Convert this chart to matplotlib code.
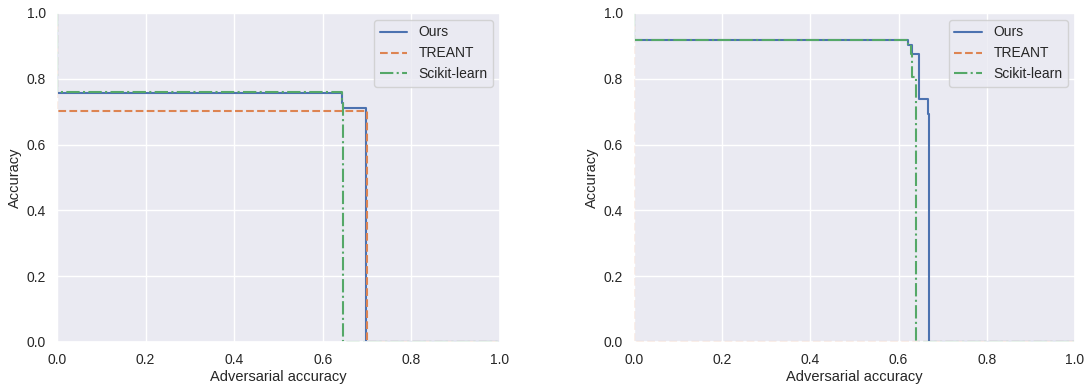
import matplotlib
matplotlib.use("Agg")
import matplotlib.pyplot as plt
import seaborn as sns

sns.set_theme(style="darkgrid")
plt.rcParams['font.family'] = ['Liberation Sans', 'DejaVu Sans']

# Left panel (step curves: adversarial accuracy thresholds -> accuracy)
left_ours_adv = [0.0, 0.0, 0.644, 0.646, 0.698, 1.0]
left_ours_acc = [1.0, 0.758, 0.725, 0.710, 0.0, 0.0]
left_treant_adv = [0.0, 0.0, 0.699, 1.0]
left_treant_acc = [1.0, 0.703, 0.0, 0.0]
left_sk_adv = [0.0, 0.0, 0.643, 0.645, 1.0]
left_sk_acc = [1.0, 0.760, 0.735, 0.0, 0.0]

# Right panel
right_ours_adv = [0.0, 0.0, 0.621, 0.630, 0.646, 0.666, 0.669, 1.0]
right_ours_acc = [1.0, 0.918, 0.903, 0.875, 0.739, 0.692, 0.0, 0.0]
right_treant_adv = [0.0, 0.0, 1.0]
right_treant_acc = [1.0, 0.0, 0.0]
right_sk_adv = [0.0, 0.0, 0.621, 0.628, 0.630, 0.639, 1.0]
right_sk_acc = [1.0, 0.918, 0.900, 0.875, 0.806, 0.0, 0.0]

series_labels = ["Ours", "TREANT", "Scikit-learn"]
ticks = [0.0, 0.2, 0.4, 0.6, 0.8, 1.0]

palette = sns.color_palette("deep")
styles = ["-", "--", "-."]

fig = plt.figure(figsize=(10.88, 3.88), dpi=100)
ax1 = fig.add_axes([0.0524, 0.1186, 0.4072, 0.848])
ax2 = fig.add_axes([0.5827, 0.1186, 0.4053, 0.848])

panels = [
    (ax1, [(left_ours_adv, left_ours_acc), (left_treant_adv, left_treant_acc), (left_sk_adv, left_sk_acc)]),
    (ax2, [(right_ours_adv, right_ours_acc), (right_treant_adv, right_treant_acc), (right_sk_adv, right_sk_acc)]),
]

for ax, series in panels:
    for i, (xs, ys) in enumerate(series):
        ax.plot(xs, ys, drawstyle="steps-post", color=palette[i], linestyle=styles[i],
                linewidth=1.5, label=series_labels[i])
    ax.set_xlim(0, 1)
    ax.set_ylim(0, 1)
    ax.set_xticks(ticks)
    ax.set_yticks(ticks)
    ax.tick_params(labelsize=10, pad=2)
    ax.set_xlabel("Adversarial accuracy", fontsize=10.5, labelpad=2)
    ax.set_ylabel("Accuracy", fontsize=10.5, labelpad=3)
    ax.legend(loc="upper right", fontsize=10)

fig.savefig("out.png", dpi=100)
